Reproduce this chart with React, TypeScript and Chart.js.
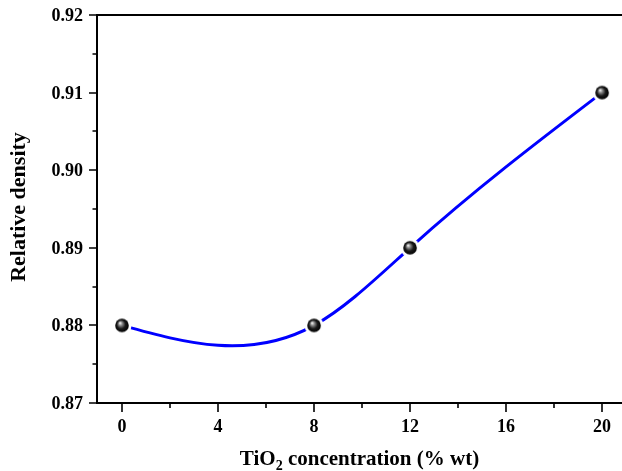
import React, { useEffect, useRef } from "react";
import { Chart, registerables } from "chart.js";

Chart.register(...registerables);

const concentrations = [0, 8, 12, 20];
const densities = [0.88, 0.88, 0.89, 0.91];
const xMajorTicks = [0, 4, 8, 12, 16, 20];
const xMinorTicks = [2, 6, 10, 14, 18];
const yMajorTicks = [0.87, 0.88, 0.89, 0.9, 0.91, 0.92];
const yMinorTicks = [0.875, 0.885, 0.895, 0.905, 0.915];

const FONT = "'Liberation Serif', 'Times New Roman', serif";

// Natural cubic spline second derivatives (how the original curve is drawn)
function naturalSplineM(xs: number[], ys: number[]): number[] {
  const n = xs.length;
  const M = new Array(n).fill(0);
  if (n < 3) return M;
  const a: number[] = [], b: number[] = [], c: number[] = [], d: number[] = [];
  for (let i = 1; i < n - 1; i++) {
    const h0 = xs[i] - xs[i - 1];
    const h1 = xs[i + 1] - xs[i];
    a.push(h0);
    b.push(2 * (h0 + h1));
    c.push(h1);
    d.push(6 * ((ys[i + 1] - ys[i]) / h1 - (ys[i] - ys[i - 1]) / h0));
  }
  const m = b.length;
  for (let i = 1; i < m; i++) {
    const w = a[i] / b[i - 1];
    b[i] -= w * c[i - 1];
    d[i] -= w * d[i - 1];
  }
  const sol = new Array(m).fill(0);
  sol[m - 1] = d[m - 1] / b[m - 1];
  for (let i = m - 2; i >= 0; i--) sol[i] = (d[i] - c[i] * sol[i + 1]) / b[i];
  for (let i = 0; i < m; i++) M[i + 1] = sol[i];
  return M;
}

function makeSphere(): HTMLCanvasElement {
  const size = 20;
  const c = document.createElement("canvas");
  c.width = size;
  c.height = size;
  const ctx = c.getContext("2d")!;
  const cx = size / 2;
  const cy = size / 2;
  ctx.fillStyle = "#ffffff";
  ctx.beginPath();
  ctx.arc(cx, cy, 9.5, 0, Math.PI * 2);
  ctx.fill();
  const g = ctx.createRadialGradient(cx - 2, cy - 2.5, 0.3, cx, cy, 6.9);
  g.addColorStop(0, "#f4f4f4");
  g.addColorStop(0.25, "#8a8a8a");
  g.addColorStop(0.6, "#1a1a1a");
  g.addColorStop(1, "#000000");
  ctx.fillStyle = g;
  ctx.beginPath();
  ctx.arc(cx, cy, 6.8, 0, Math.PI * 2);
  ctx.fill();
  return c;
}

const splinePlugin = {
  id: "naturalSpline",
  beforeDatasetsDraw(chart: any) {
    const meta = chart.getDatasetMeta(0);
    const line = meta.dataset;
    const pts = meta.data;
    const xs = chart.scales.x;
    const ys = chart.scales.y;
    line.updateControlPoints(chart.chartArea, "x");
    const M = naturalSplineM(concentrations, densities);
    for (let i = 0; i < concentrations.length - 1; i++) {
      const x0 = concentrations[i], x1 = concentrations[i + 1];
      const y0 = densities[i], y1 = densities[i + 1];
      const h = x1 - x0;
      const s0 = (y1 - y0) / h - (h * (2 * M[i] + M[i + 1])) / 6;
      const s1 = (y1 - y0) / h + (h * (M[i] + 2 * M[i + 1])) / 6;
      const p0 = pts[i], p1 = pts[i + 1];
      p0.cp2x = xs.getPixelForValue(x0 + h / 3);
      p0.cp2y = ys.getPixelForValue(y0 + (s0 * h) / 3);
      p1.cp1x = xs.getPixelForValue(x1 - h / 3);
      p1.cp1y = ys.getPixelForValue(y1 - (s1 * h) / 3);
    }
  },
};

const framePlugin = {
  id: "frame",
  beforeDatasetsDraw(chart: any) {
    const { ctx, chartArea } = chart;
    const xs = chart.scales.x;
    const ys = chart.scales.y;
    ctx.save();
    ctx.strokeStyle = "#000";
    ctx.lineWidth = 2;
    ctx.beginPath();
    ctx.moveTo(chartArea.left, chartArea.top);
    ctx.lineTo(chartArea.right, chartArea.top);
    ctx.moveTo(chartArea.left, chartArea.top - 1);
    ctx.lineTo(chartArea.left, chartArea.bottom + 1);
    ctx.moveTo(chartArea.left - 1, chartArea.bottom);
    ctx.lineTo(chartArea.right, chartArea.bottom);
    ctx.stroke();
    ctx.lineWidth = 1.6;
    ctx.beginPath();
    xMajorTicks.forEach((v) => {
      const px = Math.round(xs.getPixelForValue(v));
      ctx.moveTo(px, chartArea.bottom);
      ctx.lineTo(px, chartArea.bottom + 9);
    });
    xMinorTicks.forEach((v) => {
      const px = Math.round(xs.getPixelForValue(v));
      ctx.moveTo(px, chartArea.bottom);
      ctx.lineTo(px, chartArea.bottom + 5);
    });
    yMajorTicks.forEach((v) => {
      const py = Math.round(ys.getPixelForValue(v));
      ctx.moveTo(chartArea.left, py);
      ctx.lineTo(chartArea.left - 8, py);
    });
    yMinorTicks.forEach((v) => {
      const py = Math.round(ys.getPixelForValue(v));
      ctx.moveTo(chartArea.left, py);
      ctx.lineTo(chartArea.left - 4.5, py);
    });
    ctx.stroke();

    ctx.fillStyle = "#000";
    ctx.font = `bold 18px ${FONT}`;
    ctx.textBaseline = "alphabetic";
    ctx.textAlign = "center";
    xMajorTicks.forEach((v) => {
      ctx.fillText(String(v), xs.getPixelForValue(v), chartArea.bottom + 29);
    });
    ctx.textAlign = "right";
    yMajorTicks.forEach((v) => {
      ctx.fillText(v.toFixed(2), chartArea.left - 14, ys.getPixelForValue(v) + 6);
    });
    ctx.restore();
  },
  afterDraw(chart: any) {
    const { ctx, chartArea } = chart;
    ctx.save();
    ctx.fillStyle = "#000";
    const main = `bold 21px ${FONT}`;
    const sub = `bold 14px ${FONT}`;
    const p1 = "TiO";
    const p2 = "2";
    const p3 = " concentration (% wt)";
    ctx.font = main;
    const w1 = ctx.measureText(p1).width;
    const w3 = ctx.measureText(p3).width;
    ctx.font = sub;
    const w2 = ctx.measureText(p2).width;
    const total = w1 + w2 + w3;
    const cx = (chartArea.left + chartArea.right) / 2;
    let x = cx - total / 2;
    const base = 465;
    ctx.textBaseline = "alphabetic";
    ctx.textAlign = "left";
    ctx.font = main;
    ctx.fillText(p1, x, base);
    x += w1;
    ctx.font = sub;
    ctx.fillText(p2, x, base + 5);
    x += w2;
    ctx.font = main;
    ctx.fillText(p3, x, base);
    ctx.translate(25, (chartArea.top + chartArea.bottom) / 2 - 2);
    ctx.rotate(-Math.PI / 2);
    ctx.textAlign = "center";
    ctx.font = `bold 22px ${FONT}`;
    ctx.fillText("Relative density", 0, 0);
    ctx.restore();
  },
};

export default function App() {
  const ref = useRef<HTMLCanvasElement>(null);
  useEffect(() => {
    const sphere = makeSphere();
    const chart = new Chart(ref.current!, {
      type: "line",
      data: {
        datasets: [
          {
            data: concentrations.map((c, i) => ({ x: c, y: densities[i] })),
            borderColor: "#0000ff",
            borderWidth: 3,
            tension: 0.0001,
            pointStyle: sphere as any,
            pointRadius: 10,
            fill: false,
          },
        ],
      },
      options: {
        animation: false,
        responsive: false,
        devicePixelRatio: 1,
        layout: { autoPadding: false, padding: { top: 15, right: 0, left: 0, bottom: 0 } },
        plugins: { legend: { display: false }, tooltip: { enabled: false } },
        scales: {
          x: {
            type: "linear",
            min: -1.04,
            max: 20.83,
            grid: { display: false, drawTicks: false },
            border: { display: false },
            afterBuildTicks: (s: any) => {
              s.ticks = xMajorTicks.map((v) => ({ value: v }));
            },
            afterFit: (s: any) => {
              s.height = 68;
            },
            ticks: { display: false },
          },
          y: {
            min: 0.87,
            max: 0.92,
            grid: { display: false, drawTicks: false },
            border: { display: false },
            afterBuildTicks: (s: any) => {
              s.ticks = yMajorTicks.map((v) => ({ value: v }));
            },
            afterFit: (s: any) => {
              s.width = 97;
            },
            ticks: { display: false },
          },
        },
      },
      plugins: [framePlugin, splinePlugin],
    });
    return () => chart.destroy();
  }, []);
  return (
    <div style={{ position: "fixed", left: 0, top: 0, width: 622, height: 471, background: "#fff" }}>
      <canvas ref={ref} width={622} height={471} />
    </div>
  );
}
